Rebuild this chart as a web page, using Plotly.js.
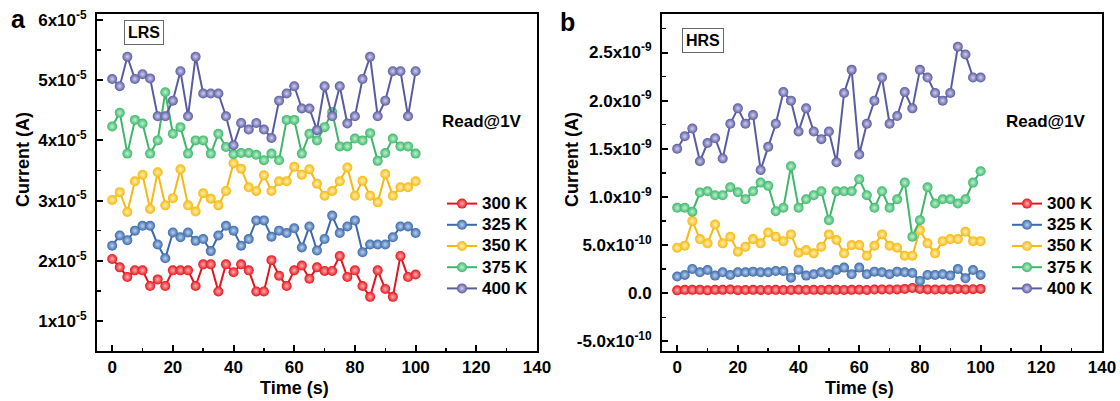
<!DOCTYPE html>
<html>
<head>
<meta charset="utf-8">
<script src="https://cdn.plot.ly/plotly-3.0.1.min.js"></script>
<style>
  html, body { margin: 0; padding: 0; background: #ffffff; }
  #chart { width: 1120px; height: 401px; }
</style>
</head>
<body>
<div id="chart"></div>
<script>
// Read time (s): one reading every 2.5 s
const timeS = [0, 2.5, 5, 7.5, 10, 12.5, 15, 17.5, 20, 22.5, 25, 27.5, 30, 32.5, 35, 37.5, 40,
  42.5, 45, 47.5, 50, 52.5, 55, 57.5, 60, 62.5, 65, 67.5, 70, 72.5, 75, 77.5, 80,
  82.5, 85, 87.5, 90, 92.5, 95, 97.5, 100];

const tempLabels = ['300 K', '325 K', '350 K', '375 K', '400 K'];

// LRS current, in units of 1e-5 A
const lrs300 = [2.03, 1.89, 1.73, 1.84, 1.84, 1.58, 1.69, 1.58, 1.84, 1.84, 1.84, 1.58, 1.94, 1.94, 1.49, 1.94, 1.81, 1.94, 1.84, 1.49,
  1.49, 2.01, 1.75, 1.58, 1.84, 1.92, 1.70, 1.89, 1.83, 1.83, 2.08, 1.73, 1.84, 1.58, 1.40, 1.84, 1.53, 1.40, 2.08, 1.73, 1.77];
const lrs325 = [2.25, 2.42, 2.34, 2.50, 2.58, 2.58, 2.27, 2.04, 2.47, 2.39, 2.47, 2.33, 2.36, 2.16, 2.42, 2.58, 2.50, 2.25, 2.36, 2.67,
  2.67, 2.40, 2.50, 2.46, 2.54, 2.22, 2.57, 2.17, 2.36, 2.75, 2.46, 2.57, 2.67, 2.14, 2.27, 2.27, 2.27, 2.39, 2.57, 2.57, 2.46];
const lrs350 = [3.01, 3.14, 2.81, 3.32, 3.43, 2.86, 3.47, 2.92, 3.04, 3.52, 2.92, 2.82, 3.12, 3.03, 2.92, 3.16, 3.62, 3.53, 3.22, 3.16,
  3.42, 3.16, 3.32, 3.32, 3.56, 3.43, 3.52, 3.28, 3.08, 3.16, 3.32, 3.55, 3.08, 3.33, 3.08, 2.97, 3.44, 3.08, 3.22, 3.22, 3.32];
const lrs375 = [4.23, 4.46, 3.78, 4.34, 4.28, 3.78, 4.00, 4.80, 4.11, 4.22, 3.78, 4.00, 4.00, 3.78, 4.11, 3.89, 3.77, 3.79, 3.79, 3.76,
  3.67, 3.78, 3.67, 4.34, 4.34, 3.78, 4.11, 4.00, 4.22, 4.47, 3.90, 3.90, 4.03, 4.00, 4.12, 3.66, 3.79, 4.03, 3.90, 3.90, 3.78];
const lrs400 = [5.02, 4.90, 5.39, 5.02, 5.10, 5.03, 4.40, 4.40, 4.66, 5.15, 4.40, 5.39, 4.78, 4.78, 4.78, 4.40, 3.92, 4.29, 4.18, 4.29,
  4.18, 4.04, 4.66, 4.78, 4.90, 4.53, 4.53, 4.17, 4.90, 4.40, 4.90, 4.28, 4.40, 5.02, 5.39, 4.40, 4.66, 5.15, 5.15, 4.40, 5.15];

// HRS current, in units of 1e-9 A
const hrs300 = [0.030, 0.035, 0.035, 0.035, 0.030, 0.035, 0.035, 0.038, 0.032, 0.033, 0.035, 0.034, 0.033, 0.035, 0.033, 0.034, 0.036, 0.033, 0.035, 0.034,
  0.036, 0.035, 0.034, 0.035, 0.036, 0.034, 0.038, 0.040, 0.038, 0.040, 0.045, 0.055, 0.045, 0.040, 0.038, 0.040, 0.040, 0.045, 0.040, 0.042, 0.045];
const hrs325 = [0.173, 0.190, 0.252, 0.217, 0.241, 0.183, 0.217, 0.190, 0.217, 0.217, 0.224, 0.217, 0.217, 0.231, 0.231, 0.162, 0.245, 0.183, 0.197, 0.217,
  0.197, 0.241, 0.266, 0.197, 0.266, 0.197, 0.224, 0.217, 0.197, 0.224, 0.217, 0.210, 0.128, 0.190, 0.190, 0.197, 0.183, 0.252, 0.155, 0.241, 0.190];
const hrs350 = [0.473, 0.494, 0.749, 0.562, 0.518, 0.714, 0.518, 0.587, 0.432, 0.483, 0.562, 0.518, 0.631, 0.587, 0.541, 0.611, 0.420, 0.448, 0.414, 0.483,
  0.611, 0.552, 0.414, 0.500, 0.500, 0.390, 0.494, 0.611, 0.494, 0.473, 0.390, 0.390, 0.656, 0.518, 0.414, 0.541, 0.562, 0.562, 0.638, 0.541, 0.541];
const hrs375 = [0.887, 0.887, 0.846, 1.046, 1.059, 1.018, 1.018, 1.100, 1.050, 0.976, 1.059, 1.149, 1.115, 0.852, 0.887, 1.318, 0.887, 0.976, 1.018, 1.059,
  0.759, 1.059, 1.059, 1.059, 1.183, 1.018, 0.887, 1.059, 0.887, 0.976, 1.149, 0.587, 0.759, 1.100, 0.932, 0.976, 0.976, 0.932, 0.976, 1.149, 1.266];
const hrs400 = [1.50, 1.63, 1.71, 1.37, 1.56, 1.61, 1.40, 1.76, 1.92, 1.76, 1.85, 1.28, 1.52, 1.76, 2.09, 2.00, 1.68, 1.92, 1.68, 1.60,
  1.68, 1.36, 2.08, 2.32, 1.44, 1.76, 2.00, 2.24, 1.76, 1.84, 2.09, 1.92, 2.32, 2.24, 2.08, 2.00, 2.08, 2.56, 2.48, 2.24, 2.24];

const LRS_UNIT = 1e-5;
const HRS_UNIT = 1e-9;

// Axis ticks
const xTicks = [0, 20, 40, 60, 80, 100, 120, 140];
const lrsTickVals = [1, 2, 3, 4, 5, 6];
const lrsTickText = ['1x10<sup>-5</sup>', '2x10<sup>-5</sup>', '3x10<sup>-5</sup>', '4x10<sup>-5</sup>', '5x10<sup>-5</sup>', '6x10<sup>-5</sup>'];
const hrsTickVals = [-0.5, 0, 0.5, 1.0, 1.5, 2.0, 2.5];
const hrsTickText = ['-5.0x10<sup>-10</sup>', '0.0', '5.0x10<sup>-10</sup>', '1.0x10<sup>-9</sup>', '1.5x10<sup>-9</sup>', '2.0x10<sup>-9</sup>', '2.5x10<sup>-9</sup>'];

// Series styling: line colour and the lighter sphere highlight
const lineColors = ['#e3141c', '#3b69a9', '#f5b90f', '#3cb86a', '#5b5b9f'];
const shineColors = ['#ffb0b0', '#b9d0f0', '#fff0b0', '#c0f0d0', '#cfcff0'];

const FONT = 'Liberation Sans, Arial, sans-serif';

const lrsSeries = [lrs300, lrs325, lrs350, lrs375, lrs400];
const hrsSeries = [hrs300, hrs325, hrs350, hrs375, hrs400];

function makeTrace(vals, unit, i, xa, ya, legendId) {
  return {
    type: 'scatter',
    mode: 'lines+markers',
    x: timeS,
    y: vals.map(v => v * unit),
    xaxis: xa,
    yaxis: ya,
    legend: legendId,
    name: '<span style="font-size:17px">' + tempLabels[i] + '</span>',
    line: { color: lineColors[i], width: 2 },
    marker: {
      symbol: 'circle',
      size: 10,
      color: lineColors[i],
      line: { width: 0 },
      gradient: { type: 'radial', color: shineColors[i] }
    },
    hoverinfo: 'x+y'
  };
}

const traces = [];
lrsSeries.forEach((s, i) => traces.push(makeTrace(s, LRS_UNIT, i, 'x', 'y', 'legend')));
hrsSeries.forEach((s, i) => traces.push(makeTrace(s, HRS_UNIT, i, 'x2', 'y2', 'legend2')));

const W = 1120, H = 401;
const px = v => v / W;
const py = v => 1 - v / H;

const tickFont = { family: FONT, size: 17, color: '#000', weight: 'bold' };
const titleFont = { family: FONT, size: 18, color: '#000', weight: 'bold' };

function xAxis(domain, anchor) {
  return {
    domain: domain,
    anchor: anchor,
    range: [-5, 140],
    tickmode: 'array',
    tickvals: xTicks,
    ticktext: xTicks.map(String),
    ticks: 'inside',
    ticklen: 6,
    tickwidth: 2,
    tickcolor: '#000',
    minor: { ticks: 'inside', ticklen: 3.5, tickwidth: 1.5, tickcolor: '#000', tickmode: 'linear', tick0: 0, dtick: 10 },
    showline: true,
    linewidth: 2,
    linecolor: '#000',
    mirror: true,
    showgrid: false,
    zeroline: false,
    tickfont: tickFont
  };
}

function yAxis(anchor, range, vals, text, unit, minorStep) {
  return {
    domain: [py(351), py(14)],
    anchor: anchor,
    range: range.map(v => v * unit),
    tickmode: 'array',
    tickvals: vals.map(v => v * unit),
    ticktext: text,
    ticks: 'inside',
    ticklen: 6,
    tickwidth: 2,
    tickcolor: '#000',
    ticklabelstandoff: 5,
    minor: { ticks: 'inside', ticklen: 3.5, tickwidth: 1.5, tickcolor: '#000', tickmode: 'linear', tick0: 0, dtick: minorStep * unit },
    showline: true,
    linewidth: 2,
    linecolor: '#000',
    mirror: true,
    showgrid: false,
    zeroline: false,
    tickfont: tickFont
  };
}

const legendBase = {
  xanchor: 'left',
  yanchor: 'top',
  bgcolor: 'rgba(0,0,0,0)',
  borderwidth: 0,
  font: { family: FONT, size: 14, color: '#000', weight: 'bold' },
  itemwidth: 30,
  tracegroupgap: 0
};

// Text annotations: panel letters, state boxes, read condition and axis titles
function label(text, x, y, size, extra) {
  return Object.assign({
    text: text, x: px(x), y: py(y), xref: 'paper', yref: 'paper',
    xanchor: 'center', yanchor: 'middle', showarrow: false,
    font: { family: FONT, size: size, weight: 'bold', color: '#000' }
  }, extra || {});
}

const boxStyle = { bordercolor: '#666', borderwidth: 1, borderpad: 3, bgcolor: '#fff' };

const layout = {
  width: W,
  height: H,
  margin: { l: 0, r: 0, t: 0, b: 0 },
  paper_bgcolor: '#ffffff',
  plot_bgcolor: '#ffffff',
  font: { family: FONT, color: '#000' },
  showlegend: true,
  xaxis: xAxis([px(97), px(537)], 'y'),
  yaxis: yAxis('x', [0.5, 6.1], lrsTickVals, lrsTickText, LRS_UNIT, 0.5),
  xaxis2: xAxis([px(662), px(1102)], 'y2'),
  yaxis2: yAxis('x2', [-0.6, 2.9], hrsTickVals, hrsTickText, HRS_UNIT, 0.25),
  legend: Object.assign({}, legendBase, { x: px(442), y: py(188) }),
  legend2: Object.assign({}, legendBase, { x: px(1007), y: py(188) }),
  annotations: [
    label('a', 18, 19, 25),
    label('b', 567, 22, 25),
    label('LRS', 144, 32.5, 16, boxStyle),
    label('HRS', 703, 40.5, 16, boxStyle),
    label('Read@1V', 482, 122, 17),
    label('Read@1V', 1046, 122, 17),
    // axis titles
    { text: 'Time (s)', xref: 'x', x: 60, yref: 'paper', y: py(388), xanchor: 'center', yanchor: 'middle',
      showarrow: false, font: titleFont },
    { text: 'Time (s)', xref: 'x2', x: 60, yref: 'paper', y: py(388), xanchor: 'center', yanchor: 'middle',
      showarrow: false, font: titleFont },
    label('Current (A)', 23, 160, 18, { textangle: -90 }),
    label('Current (A)', 572, 160, 18, { textangle: -90 })
  ]
};

Plotly.newPlot('chart', traces, layout, { staticPlot: true, displayModeBar: false });
</script>
</body>
</html>
